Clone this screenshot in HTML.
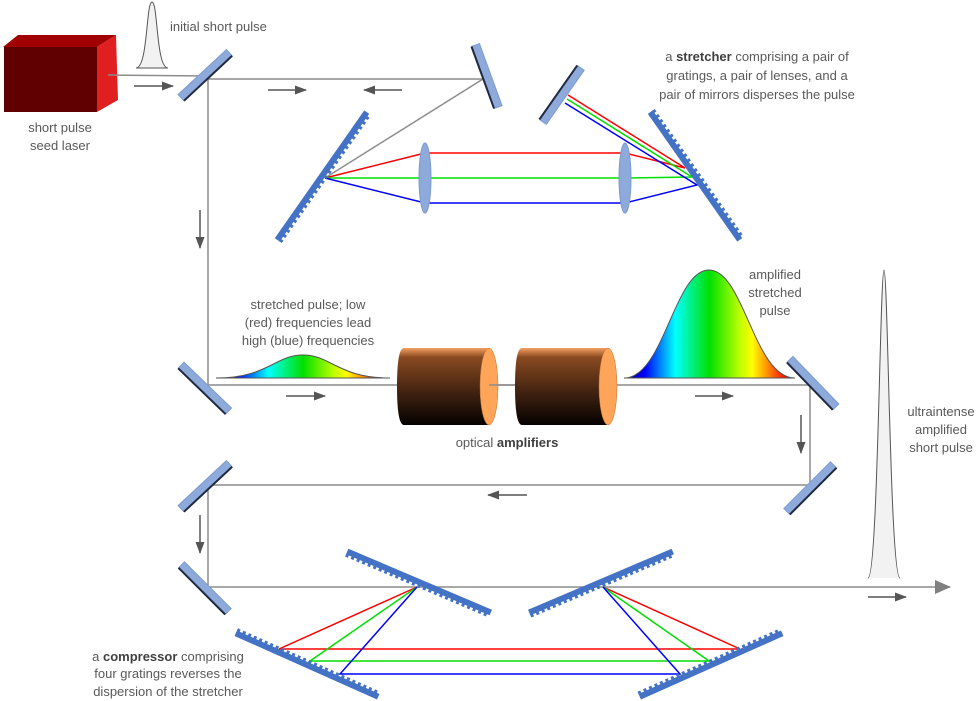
<!DOCTYPE html>
<html><head><meta charset="utf-8"><style>
html,body{margin:0;padding:0;background:#fff;}
svg{display:block;}
text{font-family:"Liberation Sans",sans-serif;font-size:13px;fill:#595959;}
</style></head><body>
<svg width="979" height="701" viewBox="0 0 979 701" xmlns="http://www.w3.org/2000/svg">
<defs>
<linearGradient id="spec" x1="0" x2="1" y1="0" y2="0">
<stop offset="0" stop-color="#000080"/>
<stop offset="0.12" stop-color="#0000ff"/>
<stop offset="0.3" stop-color="#00ffff"/>
<stop offset="0.5" stop-color="#00e000"/>
<stop offset="0.68" stop-color="#c0ff00"/>
<stop offset="0.75" stop-color="#ffff00"/>
<stop offset="0.85" stop-color="#ff8000"/>
<stop offset="0.95" stop-color="#ff0000"/>
<stop offset="1" stop-color="#c00000"/>
</linearGradient>
<linearGradient id="amp" x1="0" x2="0" y1="0" y2="1">
<stop offset="0" stop-color="#f4a060"/>
<stop offset="0.12" stop-color="#8a4a20"/>
<stop offset="0.6" stop-color="#3d2010"/>
<stop offset="1" stop-color="#050200"/>
</linearGradient>
<marker id="ah" markerWidth="12" markerHeight="9" refX="11" refY="4.5" orient="auto" markerUnits="userSpaceOnUse"><path d="M0,0 L12,4.5 L0,9 Z" fill="#555"/></marker>
<marker id="ahb" markerWidth="16" markerHeight="14" refX="15" refY="7" orient="auto" markerUnits="userSpaceOnUse"><path d="M0,0 L16,7 L0,14 Z" fill="#808080"/></marker>
<g id="mir"><rect x="-33" y="-4" width="66" height="8" fill="#8eaadb" stroke="#7d9bd0" stroke-width="1"/><line x1="-33" y1="4.5" x2="33" y2="4.5" stroke="#1f2a40" stroke-width="2"/></g>
<g id="gr"><rect x="-78" y="-3" width="156" height="6" fill="#4472c4"/><line x1="-78" y1="4" x2="78" y2="4" stroke="#4472c4" stroke-width="3" stroke-dasharray="3,3"/></g>
</defs>

<polygon points="3,47 18,35 116,35 97,47" fill="#a00000"/>
<polygon points="97,47 116,35 118,100 97,112" fill="#e02020"/>
<rect x="4" y="47" width="93" height="65" fill="#600000"/>
<text x="60" y="132" text-anchor="middle">short pulse</text>
<text x="60" y="150" text-anchor="middle">seed laser</text>

<path d="M136,68 C148,68 146,2 152,2 C158,2 156,68 168,68 Z" fill="#f2f2f2" stroke="#555" stroke-width="1"/>
<text x="170" y="31">initial short pulse</text>

<g stroke="#8c8c8c" stroke-width="1.5" fill="none">
<line x1="108" y1="75" x2="207" y2="76"/>
<line x1="208" y1="79" x2="483" y2="79"/>
<line x1="208" y1="79" x2="208" y2="385"/>
<line x1="483" y1="79" x2="325" y2="178"/>
<line x1="208" y1="385" x2="810" y2="385"/>
<line x1="810" y1="385" x2="810" y2="485"/>
<line x1="208" y1="485" x2="810" y2="485"/>
<line x1="208" y1="485" x2="208" y2="587"/>
<line x1="208" y1="587" x2="950" y2="587" marker-end="url(#ahb)"/>
</g>

<g stroke="#555" stroke-width="1.5" fill="none">
<line x1="134" y1="86" x2="173" y2="86" marker-end="url(#ah)"/>
<line x1="268" y1="90" x2="306" y2="90" marker-end="url(#ah)"/>
<line x1="402" y1="90" x2="364" y2="90" marker-end="url(#ah)"/>
<line x1="200" y1="210" x2="200" y2="248" marker-end="url(#ah)"/>
<line x1="286" y1="396" x2="325" y2="396" marker-end="url(#ah)"/>
<line x1="695" y1="396" x2="733" y2="396" marker-end="url(#ah)"/>
<line x1="801" y1="415" x2="801" y2="453" marker-end="url(#ah)"/>
<line x1="527" y1="495" x2="488" y2="495" marker-end="url(#ah)"/>
<line x1="200" y1="515" x2="200" y2="553" marker-end="url(#ah)"/>
<line x1="868" y1="597" x2="906" y2="597" marker-end="url(#ah)"/>
</g>

<g stroke-width="1.5" fill="none">
<polyline points="325,178 425,153 625,153 685,168 568,95" stroke="#ff0000"/>
<polyline points="325,178 625,178 692,177 567,99" stroke="#00e000"/>
<polyline points="325,178 425,203 625,203 697,185 565,103" stroke="#0000ff"/>
</g>
<ellipse cx="425" cy="178" rx="6" ry="35" fill="#8eaadb" stroke="#7d9bd0"/>
<ellipse cx="625" cy="178" rx="6" ry="35" fill="#8eaadb" stroke="#7d9bd0"/>

<use href="#mir" transform="translate(205,75) rotate(-43)"/>
<use href="#mir" transform="translate(487,76) rotate(70)"/>
<use href="#mir" transform="translate(562,95) rotate(-55) scale(-1,-1)"/>
<use href="#mir" transform="translate(205,388) rotate(44)"/>
<use href="#mir" transform="translate(813,383) rotate(46)"/>
<use href="#mir" transform="translate(810,488) rotate(-45)"/>
<use href="#mir" transform="translate(205,486) rotate(-43)"/>
<use href="#mir" transform="translate(205,588) rotate(45)"/>

<use href="#gr" transform="translate(322,176) rotate(-55)"/>
<use href="#gr" transform="translate(695,176) rotate(55) scale(1,-1)"/>

<text x="757" y="61" text-anchor="middle">a <tspan font-weight="bold" fill="#404040">stretcher</tspan> comprising a pair of</text>
<text x="757" y="80" text-anchor="middle">gratings, a pair of lenses, and a</text>
<text x="757" y="99" text-anchor="middle">pair of mirrors disperses the pulse</text>

<path d="M216,378 C268,378 275,355 303,355 C331,355 338,378 390,378 Z" fill="url(#spec)" stroke="#555" stroke-width="1"/>
<text x="308" y="309" text-anchor="middle">stretched pulse; low</text>
<text x="308" y="327" text-anchor="middle">(red) frequencies lead</text>
<text x="308" y="345" text-anchor="middle">high (blue) frequencies</text>

<path d="M404,348 L489,348 L489,425 L404,425 Q397,425 397,386.5 Q397,348 404,348 Z" fill="url(#amp)"/>
<ellipse cx="489" cy="386.5" rx="9" ry="38.5" fill="#ffa55a" stroke="#c07030" stroke-width="0.5"/>
<path d="M522,348 L608,348 L608,425 L522,425 Q515,425 515,386.5 Q515,348 522,348 Z" fill="url(#amp)"/>
<ellipse cx="608" cy="386.5" rx="9" ry="38.5" fill="#ffa55a" stroke="#c07030" stroke-width="0.5"/>
<line x1="489" y1="385" x2="515" y2="385" stroke="#8c8c8c" stroke-width="1.5"/>
<text x="507" y="447" text-anchor="middle">optical <tspan font-weight="bold" fill="#404040">amplifiers</tspan></text>

<path d="M624,378 C664,378 674,270 709,270 C744,270 754,378 795,378 Z" fill="url(#spec)" stroke="#555" stroke-width="1"/>
<text x="775" y="279" text-anchor="middle">amplified</text>
<text x="775" y="297" text-anchor="middle">stretched</text>
<text x="775" y="315" text-anchor="middle">pulse</text>

<g stroke-width="1.5" fill="none">
<polyline points="417,587 279,649 740,649 603,587" stroke="#ff0000"/>
<polyline points="417,587 310,661 709,661 603,587" stroke="#00e000"/>
<polyline points="417,587 340,674 680,674 603,587" stroke="#0000ff"/>
</g>
<use href="#gr" transform="translate(419,582) rotate(23)"/>
<use href="#gr" transform="translate(601,582) rotate(-23)"/>
<use href="#gr" transform="translate(307,665) rotate(24) scale(1,-1)"/>
<use href="#gr" transform="translate(711,665) rotate(-24) scale(1,-1)"/>

<text x="168" y="661" text-anchor="middle">a <tspan font-weight="bold" fill="#404040">compressor</tspan> comprising</text>
<text x="168" y="678" text-anchor="middle">four gratings reverses the</text>
<text x="168" y="696" text-anchor="middle">dispersion of the stretcher</text>

<path d="M868,578 C878,578 880,270 884,270 C888,270 890,578 900,578" fill="#f2f2f2" stroke="#555" stroke-width="1"/>
<text x="941" y="416" text-anchor="middle">ultraintense</text>
<text x="941" y="434" text-anchor="middle">amplified</text>
<text x="941" y="452" text-anchor="middle">short pulse</text>
</svg>
</body></html>
